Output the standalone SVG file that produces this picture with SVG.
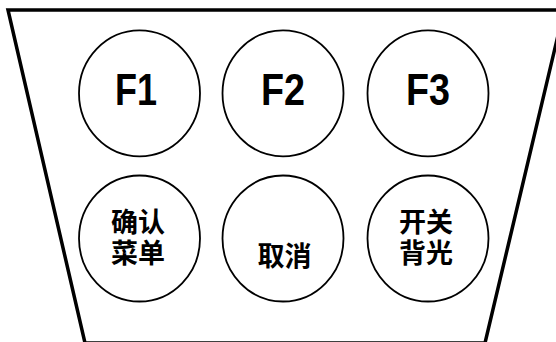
<svg xmlns="http://www.w3.org/2000/svg" width="556" height="342" viewBox="0 0 556 342">
<style>
.frame{fill:#fff;stroke:#000;stroke-width:3.5;stroke-linejoin:miter}
.btn{fill:#fff;stroke:#000;stroke-width:1.8}
.fk{font-family:"Liberation Sans",Arial,sans-serif;font-weight:bold;font-size:45px;fill:#000;text-anchor:middle}
.cn{font-family:"Noto Sans CJK SC",sans-serif;font-weight:bold;font-size:27px;fill:#000;text-anchor:middle}
</style>
<rect width="556" height="342" fill="#fff"/>
<g id="panel">
<polygon class="frame" points="8,10 564,10 485,343 85,343"/>
</g>
<g id="connectors"></g>
<g id="f1">
<ellipse class="btn" cx="139.5" cy="93.3" rx="60.5" ry="63"/>
<text class="fk" x="136" y="105" textLength="42" lengthAdjust="spacingAndGlyphs">F1</text>
</g>
<g id="f2">
<ellipse class="btn" cx="283" cy="93.3" rx="60.5" ry="63"/>
<text class="fk" x="283" y="105" textLength="44" lengthAdjust="spacingAndGlyphs">F2</text>
</g>
<g id="f3">
<ellipse class="btn" cx="428" cy="93.3" rx="60.5" ry="63"/>
<text class="fk" x="428" y="105" textLength="44" lengthAdjust="spacingAndGlyphs">F3</text>
</g>
<g id="confirm">
<ellipse class="btn" cx="139.5" cy="238.5" rx="60.5" ry="63"/>
<text class="cn" x="138" y="231.5">确认</text>
<text class="cn" x="138" y="263">菜单</text>
</g>
<g id="cancel">
<ellipse class="btn" cx="283" cy="238.5" rx="60.5" ry="63"/>
<text class="cn" x="284.5" y="265.5">取消</text>
</g>
<g id="backlight">
<ellipse class="btn" cx="428" cy="238.5" rx="60.5" ry="63"/>
<text class="cn" x="426" y="231.5">开关</text>
<text class="cn" x="426" y="263">背光</text>
</g>
</svg>
